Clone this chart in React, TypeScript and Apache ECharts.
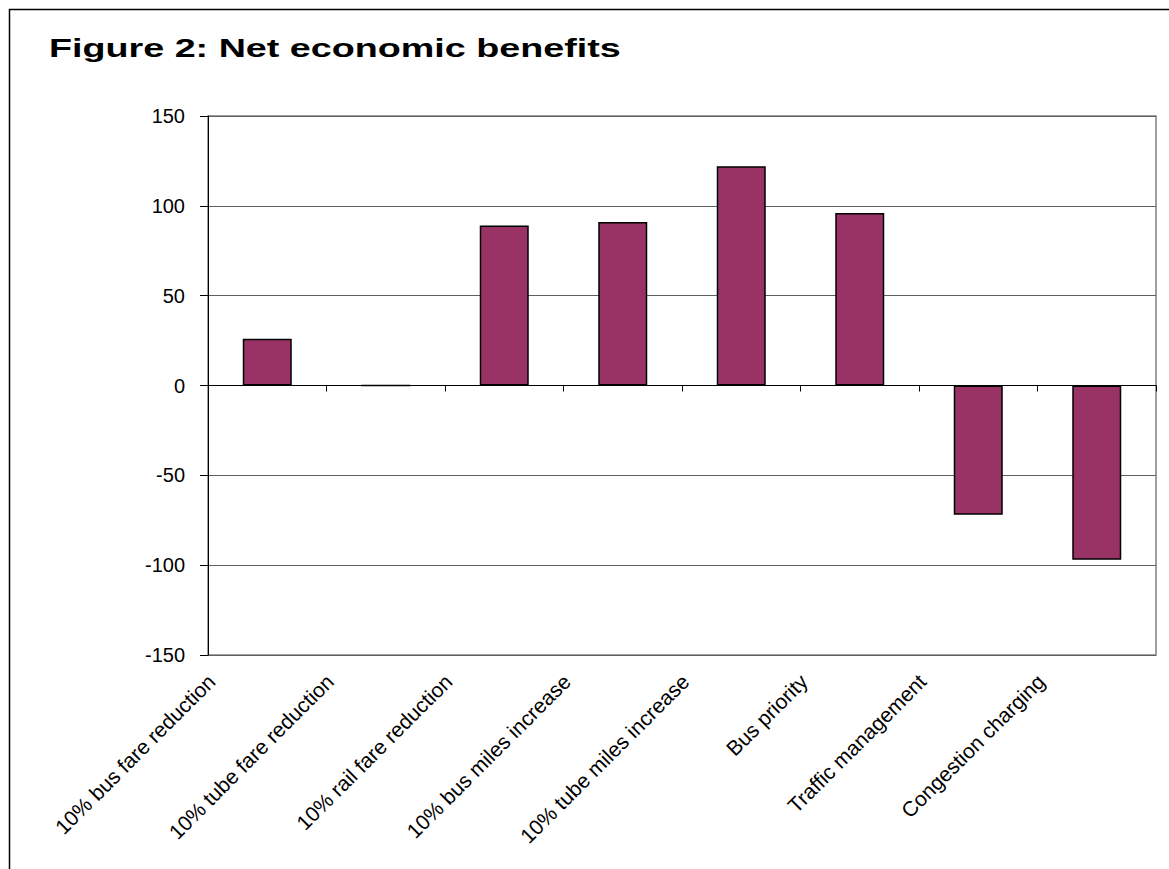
import React, { useEffect, useRef } from "react";
import * as echarts from "echarts";

const titleText = "Figure 2: Net economic benefits";
const categories = [
  "10% bus fare reduction",
  "10% tube fare reduction",
  "10% rail fare reduction",
  "10% bus miles increase",
  "10% tube miles increase",
  "Bus priority",
  "Traffic management",
  "Congestion charging",
];
const benefits = [26, 0, 89, 91, 122, 96, -72, -97];
const yMin = -150;
const yMax = 150;
const yStep = 50;

const FONT = "'Liberation Sans', Arial, Helvetica, sans-serif";

export default function App() {
  const ref = useRef<HTMLDivElement>(null);
  useEffect(() => {
    document.body.style.margin = "0";
    const chart = echarts.init(ref.current!, null, { renderer: "svg" });
    chart.setOption({
      animation: false,
      backgroundColor: "#ffffff",
      textStyle: { fontFamily: FONT },
      graphic: [
        {
          type: "rect",
          left: 7,
          top: 7,
          shape: { x: 0, y: 0, width: 1300, height: 1000 },
          style: { fill: "none", stroke: "#000", lineWidth: 1.5 },
          silent: true,
          z: 0,
        },
        {
          type: "text",
          x: 49,
          y: 48,
          scaleX: 1.45,
          style: {
            text: titleText,
            x: 0,
            y: 0,
            fill: "#000",
            font: `bold 26px ${FONT}`,
            align: "left",
            verticalAlign: "middle",
          },
          z: 10,
        },
      ],
      grid: {
        left: 208,
        right: 13,
        top: 116,
        bottom: 214,
        containLabel: false,
        outerBoundsMode: "none",
        show: true,
        borderColor: "#808080",
        borderWidth: 1.5,
        backgroundColor: "transparent",
      },
      xAxis: {
        type: "category",
        data: categories,
        axisLine: { show: true, onZero: true, lineStyle: { color: "#000", width: 1 } },
        axisTick: { show: true, alignWithLabel: false, length: 6, lineStyle: { color: "#000", width: 1 } },
        axisLabel: {
          interval: 0,
          rotate: 45,
          margin: -33,
          padding: [0, 79, 0, 0],
          color: "#000",
          fontSize: 21,
          fontFamily: FONT,
        },
        splitLine: { show: false },
      },
      yAxis: {
        type: "value",
        min: yMin,
        max: yMax,
        interval: yStep,
        axisLine: { show: true, lineStyle: { color: "#000", width: 1 } },
        axisTick: { show: true, length: 8, lineStyle: { color: "#000", width: 1 } },
        axisLabel: { color: "#000", fontSize: 20, margin: 23, fontFamily: FONT },
        splitLine: { show: true, lineStyle: { color: "#606060", width: 1.2 } },
      },
      series: [
        {
          type: "bar",
          data: benefits,
          barWidth: 49,
          itemStyle: { color: "#993366", borderColor: "#000", borderWidth: 1.5 },
        },
      ],
    });
    return () => chart.dispose();
  }, []);
  return <div ref={ref} style={{ width: 1169, height: 869 }} />;
}
